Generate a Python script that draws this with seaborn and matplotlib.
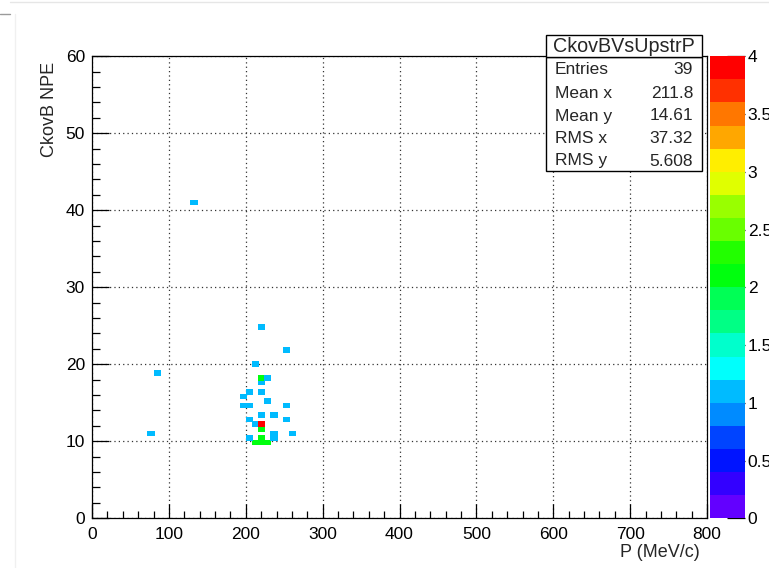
import colorsys

import matplotlib
matplotlib.use("Agg")
import matplotlib.pyplot as plt
import pandas as pd
import seaborn as sns
from matplotlib.colors import ListedColormap
from matplotlib.lines import Line2D
from matplotlib.patches import Rectangle
from matplotlib.ticker import FuncFormatter, MultipleLocator

# Filled cells of the 2D histogram (bin centre in P, bin centre in NPE, content)
p_mev = [220, 252, 212, 84, 220, 228, 220, 204, 220, 196, 228, 196, 204, 252,
         220, 236, 204, 252, 212, 220, 220, 236, 260, 76, 236, 204, 220,
         212, 220, 228, 132]
npe = [24.9, 21.9, 20.1, 18.9, 18.3, 18.3, 17.7, 16.5, 16.5, 15.9, 15.3, 14.7,
       14.7, 14.7, 13.5, 13.5, 12.9, 12.9, 12.3, 12.3, 11.7, 11.1, 11.1, 11.1,
       10.5, 10.5, 10.5, 9.9, 9.9, 9.9, 41.1]
counts = [1, 1, 1, 1, 2, 1, 1, 1, 1, 1, 1, 1,
          1, 1, 1, 1, 1, 1, 1, 4, 2, 1, 1, 1,
          1, 1, 2, 2, 2, 2, 1]

hist_name = "CkovBVsUpstrP"
stat_labels = ["Entries", "Mean x", "Mean y", "RMS x", "RMS y"]
stat_values = ["39", "211.8", "14.61", "37.32", "5.608"]
cbar_ticks = [0, 0.5, 1, 1.5, 2, 2.5, 3, 3.5, 4]
x_label = "P (MeV/c)"
y_label = "CkovB NPE"

sns.set_style("white")
plt.rcParams["font.family"] = ["Liberation Sans", "DejaVu Sans"]


def rainbow_levels(ncont=20, ncolors=50):
    """HLS rainbow (violet -> red) sampled onto ncont contour bands."""
    base = []
    for i in range(ncolors):
        hue = 280.0 - (i + 1) * (280.0 / ncolors)
        base.append(colorsys.hls_to_rgb(hue / 360.0, 0.5, 1.0))
    idx = [min(int((j + 0.99) * ncolors / ncont), ncolors - 1) for j in range(ncont)]
    return ListedColormap([base[k] for k in idx])


cmap = rainbow_levels()

W, H = 769, 568
fig = plt.figure(figsize=(W / 100, H / 100), dpi=100)


def fx(px):
    return px / W


def fy(py):
    return 1 - py / H


x0, x1, ytop, ybot = 92, 707, 56.3, 518.3
ax = fig.add_axes([fx(x0), fy(ybot), fx(x1) - fx(x0), fy(ytop) - fy(ybot)])
cax = fig.add_axes([fx(710), fy(ybot), fx(745) - fx(710), fy(ytop) - fy(ybot)])

df = pd.DataFrame({"p": p_mev, "npe": npe, "n": counts})
sns.histplot(data=df, x="p", y="npe", weights="n", bins=(100, 100),
             binrange=((0, 800), (0, 60)), cmap=cmap, ax=ax, cbar=False)

mesh = ax.collections[0]
mesh.set_cmap(cmap)
mesh.set_clim(0, 4)
mesh.set_edgecolor("face")
mesh.set_linewidth(0.5)

ax.set_xlim(0, 800)
ax.set_ylim(0, 60)
ax.xaxis.set_major_locator(MultipleLocator(100))
ax.xaxis.set_minor_locator(MultipleLocator(20))
ax.yaxis.set_major_locator(MultipleLocator(10))
ax.yaxis.set_minor_locator(MultipleLocator(2))
ax.set_axisbelow(True)
ax.grid(True, which="major", linestyle=(0, (1, 2.5)), color="#333333", linewidth=0.9)

for s in ax.spines.values():
    s.set_visible(True)
    s.set_color("black")
    s.set_linewidth(0.9)

ax.tick_params(axis="x", which="major", direction="in", length=10, width=0.9,
               labelsize=12.5, pad=6, top=False, bottom=True, colors="black")
ax.tick_params(axis="x", which="minor", direction="in", length=5, width=0.9,
               top=False, bottom=True, colors="black")
ax.tick_params(axis="y", which="major", direction="in", length=12.5, width=0.9,
               labelsize=12.5, pad=5, right=False, left=True, colors="black")
ax.tick_params(axis="y", which="minor", direction="in", length=6, width=0.9,
               right=False, left=True, colors="black")

ax.set_xlabel(x_label, fontsize=13, loc="right")
ax.set_ylabel(y_label, fontsize=13, loc="top")
ax.xaxis.set_label_coords(0.989, -0.056)
ax.yaxis.set_label_coords(-0.056, 0.988)

# colour scale
cb = fig.colorbar(mesh, cax=cax)
cb.outline.set_visible(False)
cb.set_ticks(cbar_ticks)
cb.ax.yaxis.set_major_formatter(FuncFormatter(lambda v, _: f"{v:g}"))
cb.ax.tick_params(direction="in", length=13, width=0.9, labelsize=12.5, pad=2,
                  colors="black")
cb.ax.minorticks_off()

# statistics box
bx0, bx1 = 546, 702
title_top, body_top, body_bot = 35, 57, 171
fig.add_artist(Rectangle((fx(bx0), fy(body_bot)), fx(bx1) - fx(bx0),
                         fy(body_top) - fy(body_bot), transform=fig.transFigure,
                         facecolor="white", edgecolor="black", linewidth=1.0,
                         zorder=10))
fig.add_artist(Rectangle((fx(bx0), fy(body_top)), fx(bx1) - fx(bx0),
                         fy(title_top) - fy(body_top), transform=fig.transFigure,
                         facecolor="white", edgecolor="black", linewidth=1.0,
                         zorder=10))
fig.text(fx((bx0 + bx1) / 2), fy(46.5), hist_name, ha="center", va="center",
         fontsize=14.2, zorder=11)
row_y = [70, 93, 116, 138.5, 161]
for lab, val, yy in zip(stat_labels, stat_values, row_y):
    fig.text(fx(555), fy(yy), lab, ha="left", va="center", fontsize=12.5, zorder=11)
    fig.text(fx(693), fy(yy), val, ha="right", va="center", fontsize=12.5, zorder=11)

# canvas frame edges
fig.add_artist(Line2D([fx(10), 1], [fy(1.5), fy(1.5)], transform=fig.transFigure,
                      color="#e6e6e6", linewidth=1))
fig.add_artist(Line2D([0, fx(10)], [fy(14), fy(14)], transform=fig.transFigure,
                      color="#9a9a9a", linewidth=1))
fig.add_artist(Line2D([fx(15), fx(15)], [fy(14), 0], transform=fig.transFigure,
                      color="#f0f0f0", linewidth=1))

fig.savefig("out.png", dpi=100)
